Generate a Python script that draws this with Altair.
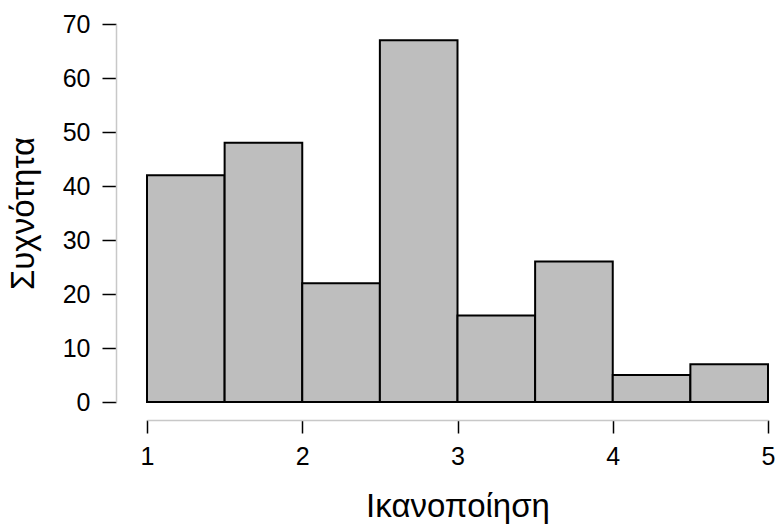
import altair as alt
import pandas as pd

# Histogram bins (satisfaction score) and their frequencies
bin_start = [1.0, 1.5, 2.0, 2.5, 3.0, 3.5, 4.0, 4.5]
bin_end = [1.5, 2.0, 2.5, 3.0, 3.5, 4.0, 4.5, 5.0]
counts = [42, 48, 22, 67, 16, 26, 5, 7]

x_ticks = [1, 2, 3, 4, 5]
y_ticks = [0, 10, 20, 30, 40, 50, 60, 70]

df = pd.DataFrame({"start": bin_start, "end": bin_end, "count": counts})

FONT = "Liberation Sans"

chart = (
    alt.Chart(df)
    .mark_rect(fill="#bebebe", stroke="black", strokeWidth=2)
    .encode(
        x=alt.X(
            "start:Q",
            scale=alt.Scale(domain=[1, 5], nice=False, zero=False),
            axis=alt.Axis(
                values=x_ticks,
                format="d",
                title="Ικανοποίηση",
                offset=18,
                grid=False,
                domainColor="#c8c8c8",
                domainWidth=1.5,
                tickColor="black",
                tickWidth=1.5,
                tickSize=13,
                labelPadding=11,
                labelFontSize=25,
                labelFont=FONT,
                labelColor="black",
                labelFlush=False,
                titleFont=FONT,
                titleFontSize=33,
                titleFontWeight="normal",
                titleColor="black",
                titlePadding=21,
            ),
        ),
        x2="end:Q",
        y=alt.Y(
            "count:Q",
            scale=alt.Scale(domain=[0, 70], nice=False),
            axis=alt.Axis(
                values=y_ticks,
                title="Συχνότητα",
                offset=31,
                grid=False,
                domainColor="#c8c8c8",
                domainWidth=1.5,
                tickColor="black",
                tickWidth=1.5,
                tickSize=14,
                labelPadding=12,
                labelFontSize=25,
                labelFont=FONT,
                labelColor="black",
                labelFlush=False,
                titleFont=FONT,
                titleFontSize=33,
                titleFontWeight="normal",
                titleColor="black",
                titlePadding=22,
            ),
        ),
        y2=alt.datum(0),
    )
    .properties(
        width=621,
        height=378,
        background="white",
        autosize=alt.AutoSizeParams(type="none"),
        padding={"left": 147, "top": 24, "right": 9, "bottom": 122},
    )
    .configure_view(stroke=None, strokeWidth=0)
)

chart.save("out.html", embed_options={"renderer": "svg", "actions": False})
